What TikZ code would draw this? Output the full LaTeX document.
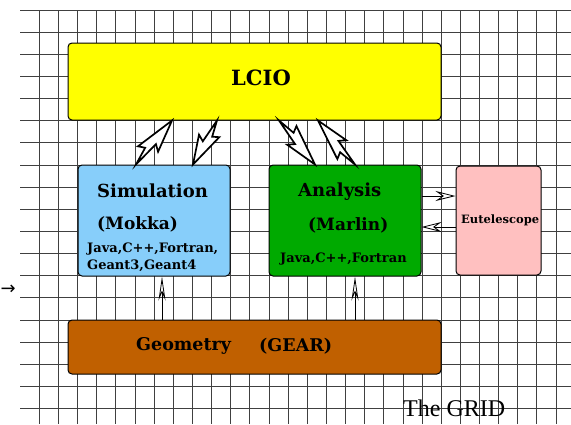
\documentclass[tikz,border=0pt]{standalone}
\usepackage{fontspec}
\setmainfont{DejaVu Serif}
\newfontfamily\gridfont{Liberation Serif}
\newfontfamily\symfont{DejaVu Sans}
\usetikzlibrary{arrows.meta, calc, positioning}
\definecolor{lcioyellow}{RGB}{255,255,0}
\definecolor{simblue}{RGB}{135,206,250}
\definecolor{anagreen}{RGB}{0,170,0}
\definecolor{eutpink}{RGB}{255,192,192}
\definecolor{geobrown}{RGB}{192,96,0}
\tikzset{
  gridline/.style={
    black!75,
    line width=0.6pt
  },
  block/.style={
    rectangle,
    rounded corners=4pt,
    draw=black,
    line width=1pt,
    inner sep=0pt
  },
  bigtext/.style={
    font=\bfseries\fontsize{21}{24}\selectfont,
    inner sep=0pt
  },
  title/.style={
    font=\bfseries\fontsize{18}{20}\selectfont,
    anchor=west,
    inner sep=0pt
  },
  subtitle/.style={
    font=\bfseries\fontsize{17}{20}\selectfont,
    anchor=west,
    inner sep=0pt
  },
  lang/.style={
    font=\bfseries\fontsize{13}{15}\selectfont,
    anchor=west,
    inner sep=0pt
  },
  bolt/.style={
    draw=black,
    fill=white,
    line width=1.7pt,
    line join=miter
  },
  arrow/.style={
    line width=0.8pt,
    -{Stealth[open, length=20pt, width=10pt, inset=7pt]}
  },
  uparrow/.style={
    line width=0.8pt,
    -{Stealth[open, length=24pt, width=7pt, inset=8pt]}
  }
}
% lightning arrow: tail #1, tip #2
\newcommand{\boltarrow}[2]{%
  \draw[bolt] (#2) -- ($(#1)!0.42!(#2)!9pt!-90:(#2)$) -- ($(#1)!0.5!(#2)!2.5pt!-90:(#2)$)
    -- (#1) -- ($(#1)!0.33!(#2)!3.5pt!90:(#2)$) -- ($(#1)!0.27!(#2)!10pt!90:(#2)$) -- cycle;}

\begin{document}
\begin{tikzpicture}[x=1pt, y=-1pt]

  \fill[white] (0,0) rectangle (571,424);
  \useasboundingbox (0,0) rectangle (571,424);

  % Grid
  \foreach \k in {1,...,28}
    \draw[gridline] ({20+19.14*\k},10) -- ({20+19.14*\k},424);
  \foreach \k in {0,...,18}
    \draw[gridline] (20,{10+22.13*\k}) -- (571,{10+22.13*\k});

  \node (lead) [anchor=east, inner sep=0pt, font=\symfont\fontsize{18}{18}\selectfont] at (16,290) {→};

  % Boxes
  \node (LCIO) [block, fill=lcioyellow, minimum width=373pt, minimum height=77pt] at (254.5,81.5) {};
  \node (Sim) [block, fill=simblue, minimum width=152pt, minimum height=111pt] at (154,220.5) {};
  \node (Ana) [block, fill=anagreen, minimum width=152pt, minimum height=111pt] at (345,220.5) {};
  \node (Eut) [block, fill=eutpink, minimum width=85pt, minimum height=109pt] at (498.5,220.5) {};
  \node (Geo) [block, fill=geobrown, minimum width=373pt, minimum height=54pt] at (254.5,347) {};

  % Texts
  \node (lcioname) [bigtext] at (261,78) {LCIO};
  \node (simname) [title] at (97,191) {Simulation};
  \node (simprog) [subtitle] at (97,224) {(Mokka)};
  \node (simlang) [lang] at (87,249) {Java,C++,Fortran,};
  \node (simgeant) [lang] at (87,266) {Geant3,Geant4};
  \node (ananame) [title] at (298,192) {Analysis};
  \node (anaprog) [subtitle] at (308,225) {(Marlin)};
  \node (analang) [lang] at (280,259) {Java,C++,Fortran};
  \node (eutname) [lang, font=\bfseries\fontsize{11.5}{13}\selectfont] at (461,220) {Eutelescope};
  \node (geoname) [subtitle, font=\bfseries\fontsize{17.5}{20}\selectfont] at (136,346) {Geometry};
  \node (gearname) [subtitle, font=\bfseries\fontsize{17.5}{20}\selectfont] at (259,346) {(GEAR)};
  \node (gridname) [anchor=west, inner sep=0pt, font=\gridfont\fontsize{24}{26}\selectfont] at (403,408) {The GRID};

  % Lightning arrows between LCIO and the two programs
  \coordinate (s1) at ([xshift=-18pt]Sim.north);
  \coordinate (l1) at ([xshift=-82.5pt]LCIO.south);
  \coordinate (l2) at ([xshift=-37.5pt]LCIO.south);
  \coordinate (s2) at ([xshift=39pt]Sim.north);
  \coordinate (l3) at ([xshift=24.5pt]LCIO.south);
  \coordinate (a3) at ([xshift=-30pt]Ana.north);
  \coordinate (a4) at ([xshift=10pt]Ana.north);
  \coordinate (l4) at ([xshift=63.5pt]LCIO.south);
  \boltarrow{s1}{l1}
  \boltarrow{l2}{s2}
  \boltarrow{l3}{a3}
  \boltarrow{a4}{l4}

  % Small arrows
  \draw[arrow] ([yshift=24.5pt]Ana.east) -- ([yshift=24.5pt]Eut.west);
  \draw[arrow] ([yshift=-6.5pt]Eut.west) -- ([yshift=-6.5pt]Ana.east);
  \draw[uparrow] ([xshift=-92.5pt]Geo.north) -- ([xshift=8pt]Sim.south);
  \draw[uparrow] ([xshift=100.5pt]Geo.north) -- ([xshift=10pt]Ana.south);

\end{tikzpicture}
\end{document}
